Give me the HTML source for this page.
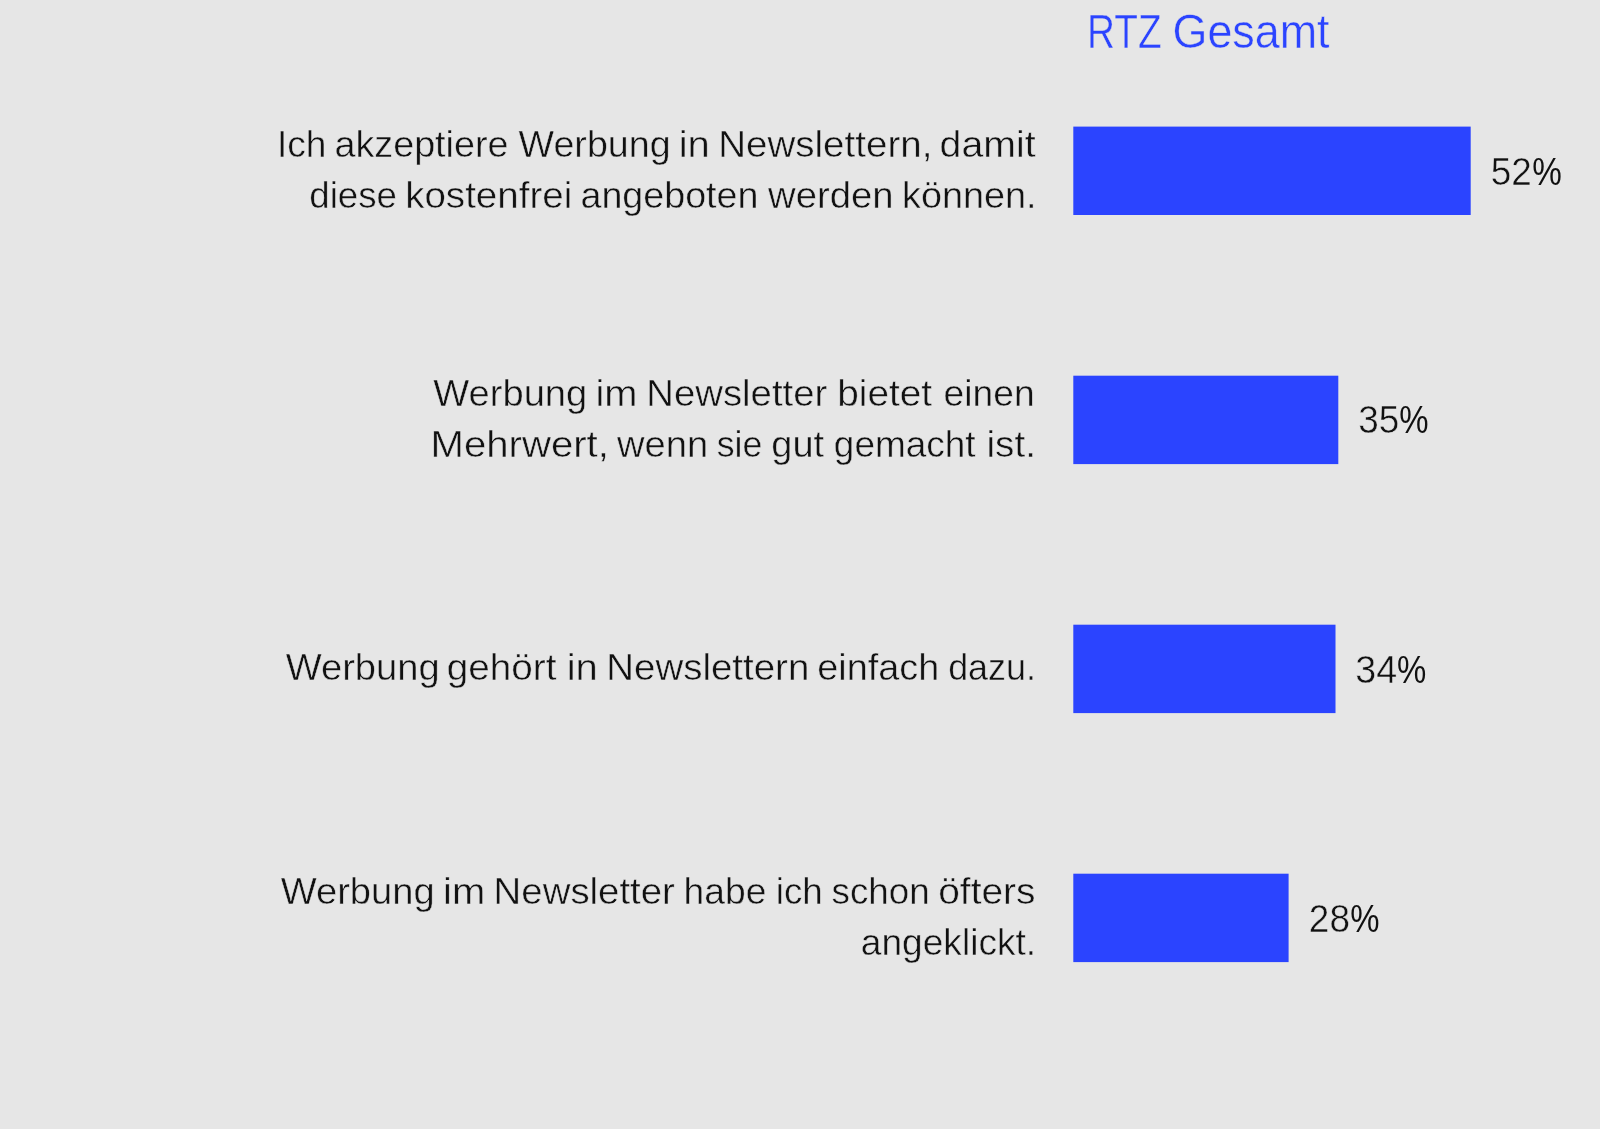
<!DOCTYPE html>
<html lang="de">
<head>
<meta charset="utf-8">
<title>RTZ Gesamt</title>
<style>
  html, body { margin: 0; padding: 0; background: #e6e6e6; }
  body { width: 1600px; height: 1129px; overflow: hidden; position: relative; }
  svg { position: absolute; left: 0; top: 0; display: block; will-change: transform; opacity: 0.999; }
  text { font-family: "Liberation Sans", sans-serif; stroke: #e6e6e6; stroke-width: 0.45px; stroke-linejoin: round; }
  .lbl { font-size: 36.6px; fill: #111111; }
  .val { font-size: 38.0px; fill: #111111; }
  .ttl { font-size: 47.6px; fill: #2b44ff; stroke-width: 1.4px; }
  .pct { stroke-width: 0; }
</style>
</head>
<body>
<svg width="1600" height="1129" viewBox="0 0 1600 1129">
  <!-- bars -->
  <g fill="#2b44ff">
    <rect x="1073.3" y="126.6" width="397.4" height="88.4"/>
    <rect x="1073.3" y="375.7" width="265.0" height="88.4"/>
    <rect x="1073.3" y="624.7" width="262.2" height="88.4"/>
    <rect x="1073.3" y="873.7" width="215.3" height="88.4"/>
  </g>
  <g class="ttl">
    <text x="1087.04" y="48.3" textLength="74.54" lengthAdjust="spacingAndGlyphs">RTZ</text>
    <text x="1172.51" y="48.3" textLength="156.98" lengthAdjust="spacingAndGlyphs">Gesamt</text>
  </g>
  <g class="lbl">
    <text x="276.95" y="157.2" textLength="49.46" lengthAdjust="spacingAndGlyphs">Ich</text>
    <text x="334.48" y="157.2" textLength="174.00" lengthAdjust="spacingAndGlyphs">akzeptiere</text>
    <text x="518.61" y="157.2" textLength="151.97" lengthAdjust="spacingAndGlyphs">Werbung</text>
    <text x="678.65" y="157.2" textLength="31.16" lengthAdjust="spacingAndGlyphs">in</text>
    <text x="718.18" y="157.2" textLength="214.22" lengthAdjust="spacingAndGlyphs">Newslettern,</text>
    <text x="939.59" y="157.2" textLength="95.96" lengthAdjust="spacingAndGlyphs">damit</text>
  </g>
  <g class="lbl">
    <text x="309.30" y="208.0" textLength="87.60" lengthAdjust="spacingAndGlyphs">diese</text>
    <text x="405.17" y="208.0" textLength="167.09" lengthAdjust="spacingAndGlyphs">kostenfrei</text>
    <text x="580.48" y="208.0" textLength="177.97" lengthAdjust="spacingAndGlyphs">angeboten</text>
    <text x="768.05" y="208.0" textLength="125.44" lengthAdjust="spacingAndGlyphs">werden</text>
    <text x="902.00" y="208.0" textLength="134.64" lengthAdjust="spacingAndGlyphs">können.</text>
  </g>
  <g class="lbl">
    <text x="433.37" y="406.4" textLength="153.86" lengthAdjust="spacingAndGlyphs">Werbung</text>
    <text x="595.40" y="406.4" textLength="42.07" lengthAdjust="spacingAndGlyphs">im</text>
    <text x="646.30" y="406.4" textLength="181.00" lengthAdjust="spacingAndGlyphs">Newsletter</text>
    <text x="837.29" y="406.4" textLength="94.80" lengthAdjust="spacingAndGlyphs">bietet</text>
    <text x="943.64" y="406.4" textLength="90.98" lengthAdjust="spacingAndGlyphs">einen</text>
  </g>
  <g class="lbl">
    <text x="430.62" y="456.8" textLength="178.28" lengthAdjust="spacingAndGlyphs">Mehrwert,</text>
    <text x="617.04" y="456.8" textLength="91.12" lengthAdjust="spacingAndGlyphs">wenn</text>
    <text x="716.65" y="456.8" textLength="45.63" lengthAdjust="spacingAndGlyphs">sie</text>
    <text x="771.36" y="456.8" textLength="52.78" lengthAdjust="spacingAndGlyphs">gut</text>
    <text x="833.86" y="456.8" textLength="141.62" lengthAdjust="spacingAndGlyphs">gemacht</text>
    <text x="986.53" y="456.8" textLength="49.38" lengthAdjust="spacingAndGlyphs">ist.</text>
  </g>
  <g class="lbl">
    <text x="285.71" y="680.4" textLength="153.92" lengthAdjust="spacingAndGlyphs">Werbung</text>
    <text x="446.69" y="680.4" textLength="109.74" lengthAdjust="spacingAndGlyphs">gehört</text>
    <text x="566.65" y="680.4" textLength="31.16" lengthAdjust="spacingAndGlyphs">in</text>
    <text x="606.26" y="680.4" textLength="203.06" lengthAdjust="spacingAndGlyphs">Newslettern</text>
    <text x="817.33" y="680.4" textLength="121.88" lengthAdjust="spacingAndGlyphs">einfach</text>
    <text x="948.16" y="680.4" textLength="87.80" lengthAdjust="spacingAndGlyphs">dazu.</text>
  </g>
  <g class="lbl">
    <text x="280.71" y="904.2" textLength="153.92" lengthAdjust="spacingAndGlyphs">Werbung</text>
    <text x="443.07" y="904.2" textLength="42.18" lengthAdjust="spacingAndGlyphs">im</text>
    <text x="493.64" y="904.2" textLength="181.25" lengthAdjust="spacingAndGlyphs">Newsletter</text>
    <text x="683.56" y="904.2" textLength="82.83" lengthAdjust="spacingAndGlyphs">habe</text>
    <text x="775.73" y="904.2" textLength="46.95" lengthAdjust="spacingAndGlyphs">ich</text>
    <text x="831.57" y="904.2" textLength="98.05" lengthAdjust="spacingAndGlyphs">schon</text>
    <text x="938.23" y="904.2" textLength="97.22" lengthAdjust="spacingAndGlyphs">öfters</text>
  </g>
  <g class="lbl">
    <text x="860.82" y="955.05" textLength="175.35" lengthAdjust="spacingAndGlyphs">angeklickt.</text>
  </g>
  <g class="val">
    <text x="1490.65" y="184.7" textLength="41.05" lengthAdjust="spacingAndGlyphs">52</text>
    <text class="pct" x="1532.29" y="184.7" textLength="29.56" lengthAdjust="spacingAndGlyphs">%</text>
  </g>
  <g class="val">
    <text x="1358.20" y="433.4" textLength="41.02" lengthAdjust="spacingAndGlyphs">35</text>
    <text class="pct" x="1399.26" y="433.4" textLength="29.31" lengthAdjust="spacingAndGlyphs">%</text>
  </g>
  <g class="val">
    <text x="1355.32" y="682.8" textLength="41.86" lengthAdjust="spacingAndGlyphs">34</text>
    <text class="pct" x="1396.90" y="682.8" textLength="29.28" lengthAdjust="spacingAndGlyphs">%</text>
  </g>
  <g class="val">
    <text x="1308.87" y="931.6" textLength="41.08" lengthAdjust="spacingAndGlyphs">28</text>
    <text class="pct" x="1350.25" y="931.6" textLength="29.28" lengthAdjust="spacingAndGlyphs">%</text>
  </g>
</svg>
</body>
</html>
